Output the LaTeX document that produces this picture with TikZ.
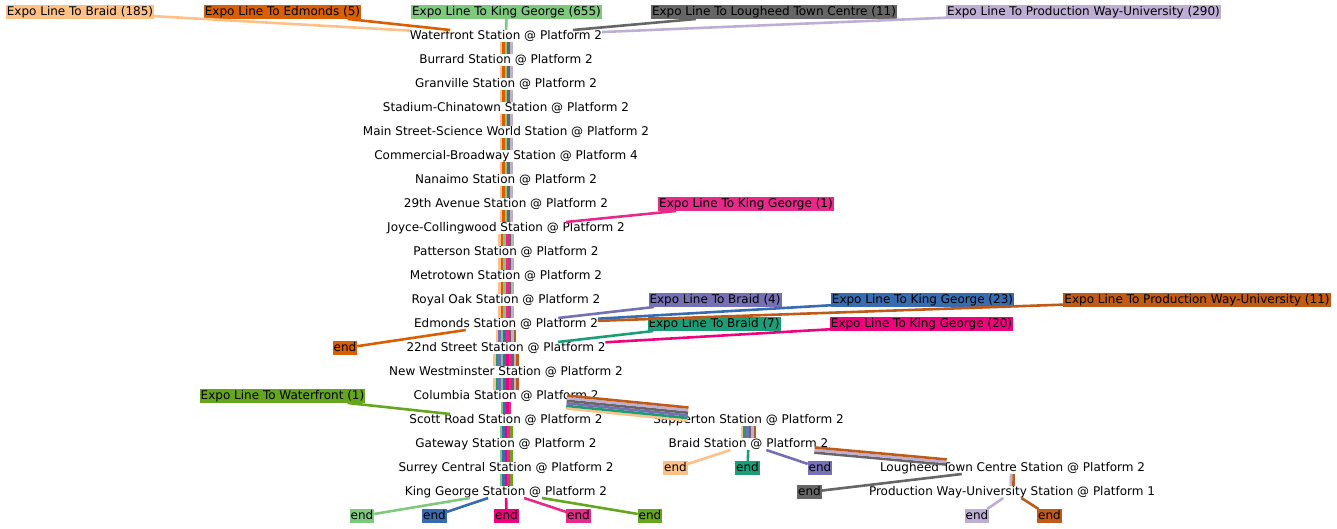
\documentclass[tikz,border=0pt]{standalone}
\usepackage{fontspec}
\setmainfont{DejaVu Sans}
\usetikzlibrary{calc}
\definecolor{cA}{HTML}{FDC086}
\definecolor{cB}{HTML}{D95F02}
\definecolor{cC}{HTML}{7FC97F}
\definecolor{cD}{HTML}{666666}
\definecolor{cE}{HTML}{BEAED4}
\definecolor{cF}{HTML}{E7298A}
\definecolor{cG}{HTML}{7570B3}
\definecolor{cH}{HTML}{386CB0}
\definecolor{cI}{HTML}{BF5B17}
\definecolor{cJ}{HTML}{1B9E77}
\definecolor{cK}{HTML}{F0027F}
\definecolor{cL}{HTML}{66A61E}
\tikzset{
  station/.style={font=\fontsize{12}{14}\selectfont, inner xsep=0pt, inner ysep=0pt,
    text height=9pt, text depth=3pt, outer sep=0pt},
  lbl/.style={font=\fontsize{12}{14}\selectfont, inner xsep=1pt, inner ysep=1pt,
    text height=9pt, text depth=3pt, outer sep=0pt, fill=#1, text=black},
  stripe/.style={line width=2.6pt},
}
\newcommand\bundle[3]{%
  \path (#1) -- (#2) coordinate[pos=0] (bs) coordinate[pos=1] (be);
  \foreach \col [count=\n] in {#3} {\xdef\nst{\n}}%
  \foreach \col [count=\i] in {#3} {%
    \pgfmathsetmacro\off{((\nst+1)/2-\i)*2.6}%
    \draw[stripe, \col] ($(bs)!\off pt!-90:(be)$) -- ($(be)!\off pt!90:(bs)$);
  }%
}
\begin{document}
\begin{tikzpicture}[x=1pt, y=-1pt]
\useasboundingbox (0,0) rectangle (1337,528);
\begin{scope}[yshift=-1pt]
% stations
\node[station] (S1) at (506,35) {Waterfront Station @ Platform 2};
\node[station] (S2) at (506,59) {Burrard Station @ Platform 2};
\node[station] (S3) at (506,83) {Granville Station @ Platform 2};
\node[station] (S4) at (506,107) {Stadium-Chinatown Station @ Platform 2};
\node[station] (S5) at (506,131) {Main Street-Science World Station @ Platform 2};
\node[station] (S6) at (506,155) {Commercial-Broadway Station @ Platform 4};
\node[station] (S7) at (506,179) {Nanaimo Station @ Platform 2};
\node[station] (S8) at (506,203) {29th Avenue Station @ Platform 2};
\node[station] (S9) at (506,227) {Joyce-Collingwood Station @ Platform 2};
\node[station] (S10) at (506,251) {Patterson Station @ Platform 2};
\node[station] (S11) at (506,275) {Metrotown Station @ Platform 2};
\node[station] (S12) at (506,299) {Royal Oak Station @ Platform 2};
\node[station] (S13) at (506,323) {Edmonds Station @ Platform 2};
\node[station] (S14) at (506,347) {22nd Street Station @ Platform 2};
\node[station] (S15) at (506,371) {New Westminster Station @ Platform 2};
\node[station] (S16) at (506,395) {Columbia Station @ Platform 2};
\node[station] (S17) at (506,419) {Scott Road Station @ Platform 2};
\node[station] (S18) at (506,443) {Gateway Station @ Platform 2};
\node[station] (S19) at (506,467) {Surrey Central Station @ Platform 2};
\node[station] (S20) at (506,491) {King George Station @ Platform 2};
\node[station] (Sap) at (748.5,419) {Sapperton Station @ Platform 2};
\node[station] (Bra) at (748.5,443) {Braid Station @ Platform 2};
\node[station] (Lou) at (1012.5,467) {Lougheed Town Centre Station @ Platform 2};
\node[station] (PW) at (1012,491) {Production Way-University Station @ Platform 1};
% labels
\node[lbl=cA] (L185) at (80,11) {Expo Line To Braid (185)};
\node[lbl=cB] (L5) at (282.5,11) {Expo Line To Edmonds (5)};
\node[lbl=cC] (L655) at (506.5,11) {Expo Line To King George (655)};
\node[lbl=cD] (L11) at (774,11) {Expo Line To Lougheed Town Centre (11)};
\node[lbl=cE] (L290) at (1083.5,11) {Expo Line To Production Way-University (290)};
\node[lbl=cF] (Lkg1) at (746,203) {Expo Line To King George (1)};
\node[lbl=cG] (Lb4) at (715,299) {Expo Line To Braid (4)};
\node[lbl=cH] (Lkg23) at (922.5,299) {Expo Line To King George (23)};
\node[lbl=cI] (Lpw11) at (1197,299) {Expo Line To Production Way-University (11)};
\node[lbl=cJ] (Lb7) at (714,323) {Expo Line To Braid (7)};
\node[lbl=cK] (Lkg20) at (921.5,323) {Expo Line To King George (20)};
\node[lbl=cL] (Lwf1) at (282.5,395) {Expo Line To Waterfront (1)};
% ends
\node[lbl=cB] (EB) at (345,347) {end};
\node[lbl=cA] (EA) at (675.5,467) {end};
\node[lbl=cJ] (EJ) at (747.5,467) {end};
\node[lbl=cG] (EG) at (820,467) {end};
\node[lbl=cD] (ED) at (809.5,491) {end};
\node[lbl=cE] (EE) at (977,515) {end};
\node[lbl=cI] (EI) at (1049.5,515) {end};
\node[lbl=cC] (EC) at (362,515) {end};
\node[lbl=cH] (EH) at (434.5,515) {end};
\node[lbl=cK] (EK) at (506.5,515) {end};
\node[lbl=cF] (EF) at (578.5,515) {end};
\node[lbl=cL] (EL) at (650,515) {end};
% trunk bundles
\foreach \a/\b in {S1/S2,S2/S3,S3/S4,S4/S5,S5/S6,S6/S7,S7/S8,S8/S9}
  {\bundle{\a}{\b}{cA,cB,cC,cD,cE}}
\foreach \a/\b in {S9/S10,S10/S11,S11/S12,S12/S13}
  {\bundle{\a}{\b}{cA,cB,cC,cF,cD,cE}}
\bundle{S13}{S14}{cA,cG,cC,cH,cF,cD,cE,cI}
\foreach \a/\b in {S14/S15,S15/S16}
  {\bundle{\a}{\b}{cA,cJ,cG,cC,cH,cK,cF,cD,cE,cI}}
\bundle{S16}{S17}{cC,cH,cK,cF}
\foreach \a/\b in {S17/S18,S18/S19,S19/S20}
  {\bundle{\a}{\b}{cC,cH,cK,cF,cL}}
\bundle{S16}{Sap}{cA,cJ,cG,cD,cE,cI}
\bundle{Sap}{Bra}{cA,cJ,cG,cD,cE,cI}
\bundle{Bra}{Lou}{cD,cE,cI}
\bundle{Lou}{PW}{cE,cI}
% single edges
\foreach \a/\b/\c in {L185/S1/cA, L5/S1/cB, L655/S1/cC, L11/S1/cD, L290/S1/cE,
  Lkg1/S9/cF, Lb4/S13/cG, Lkg23/S13/cH, Lpw11/S13/cI, Lb7/S14/cJ, Lkg20/S14/cK,
  Lwf1/S17/cL, S13/EB/cB, Bra/EA/cA, Bra/EJ/cJ, Bra/EG/cG, Lou/ED/cD,
  PW/EE/cE, PW/EI/cI, S20/EC/cC, S20/EH/cH, S20/EK/cK, S20/EF/cF, S20/EL/cL}
  {\draw[stripe, \c] (\a) -- (\b);}
\end{scope}
\end{tikzpicture}
\end{document}
